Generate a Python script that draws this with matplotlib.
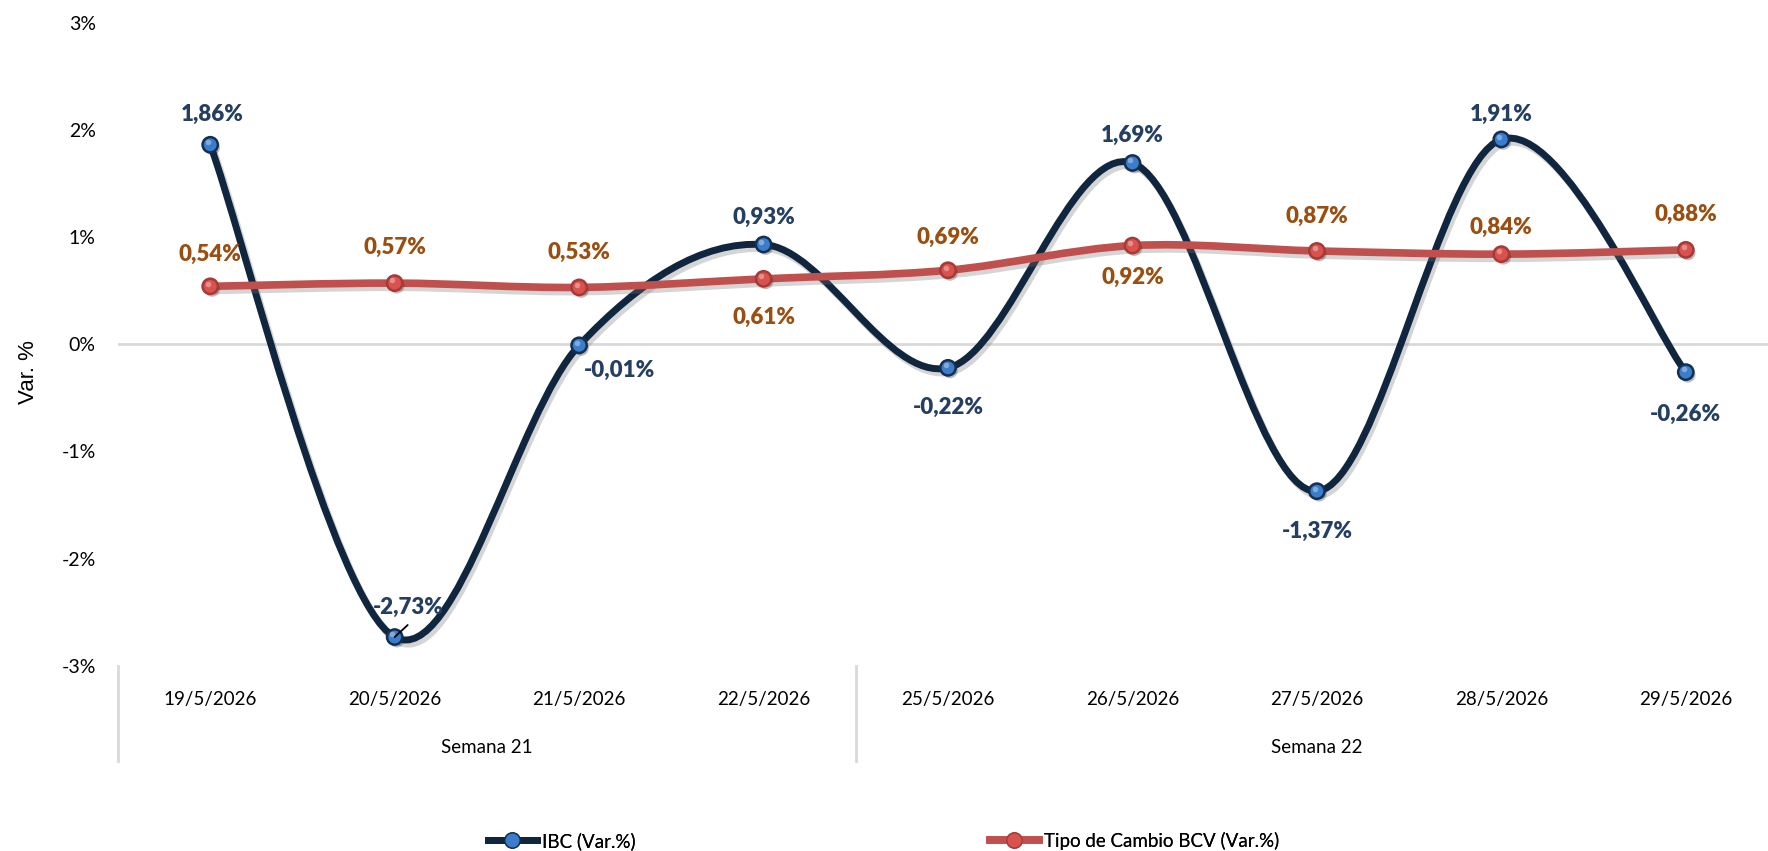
import numpy as np
import matplotlib.pyplot as plt
import matplotlib.patheffects as pe
from matplotlib.path import Path
from matplotlib.patches import PathPatch
from matplotlib.lines import Line2D
from matplotlib.transforms import blended_transform_factory

fechas = ['19/5/2026', '20/5/2026', '21/5/2026', '22/5/2026', '25/5/2026',
          '26/5/2026', '27/5/2026', '28/5/2026', '29/5/2026']
semanas = ['Semana 21', 'Semana 22']
dias_semana = [4, 5]
ibc = [1.86, -2.73, -0.01, 0.93, -0.22, 1.69, -1.37, 1.91, -0.26]
tipo_cambio = [0.54, 0.57, 0.53, 0.61, 0.69, 0.92, 0.87, 0.84, 0.88]

# label offsets in pixels (dx, dy), dy positive = up
ibc_off = [(2, 30), (14, 30), (40, -25), (0, 27), (0, -40), (0, 28), (0, -40), (0, 25), (0, -42)]
tc_off = [(0, 32), (0, 36), (0, 35), (0, -39), (0, 33), (0, -32), (0, 35), (0, 27), (0, 35)]

PX = 72 / 100  # pixels -> points at dpi 100
FONT = 'Lato'


def smooth_path(xs, ys):
    # Excel-like smoothed line: cubic bezier segments through every point
    p = np.column_stack([xs, ys]).astype(float)
    n = len(p)
    verts, codes = [p[0]], [Path.MOVETO]
    for i in range(n - 1):
        p0, p1, p2, p3 = p[max(i - 1, 0)], p[i], p[i + 1], p[min(i + 2, n - 1)]
        verts += [p1 + (p2 - p0) / 6, p2 - (p3 - p1) / 6, p2]
        codes += [Path.CURVE4] * 3
    return Path(verts, codes)


fig = plt.figure(figsize=(17.68, 8.51), dpi=100)
ax = fig.add_axes([118 / 1768, 1 - 666 / 851, 1660 / 1768, 643.5 / 851])
x = np.arange(len(fechas))

ax.set_xlim(-0.5, len(fechas) - 0.5)
ax.set_ylim(-3, 3)
ax.set_yticks(range(-3, 4))
ax.set_yticklabels([f'{v}%' for v in range(-3, 4)], fontfamily=FONT, fontsize=14)
ax.tick_params(axis='y', length=0, pad=16)
ax.set_xticks([])
for s in ax.spines.values():
    s.set_visible(False)
ax.axhline(0, color='#D9D9D9', lw=2, zorder=1)

shadow = [pe.SimpleLineShadow(offset=(2, -3), shadow_color='#777777', alpha=0.3), pe.Normal()]

series = [
    (ibc, '#10263F', 5.0, '#3B7DCB', '#15304F', '#243F62', ibc_off),
    (tipo_cambio, '#C0504D', 5.5, '#D9524E', '#A63A37', '#9A4E10', tc_off),
]
for vals, lc, lw, mfc, mec, tcol, offs in series:
    patch = PathPatch(smooth_path(x, vals), fill=False, edgecolor=lc, lw=lw,
                      capstyle='round', joinstyle='round', path_effects=shadow, zorder=3)
    ax.add_patch(patch)
    ax.plot(x, vals, ls='none', marker='o', ms=11, mfc=mfc, mec=mec, mew=1.8, zorder=5,
            path_effects=[pe.SimplePatchShadow(offset=(1.5, -2), alpha=0.3), pe.Normal()])
    ax.plot(x - 0.012, np.array(vals) + 0.025, ls='none', marker='o', ms=4,
            mfc='white', mec='none', alpha=0.35, zorder=6)
    for xi, v, (dx, dy) in zip(x, vals, offs):
        ax.annotate(f'{v:.2f}%'.replace('.', ','), (xi, v), xytext=(dx * PX, dy * PX),
                    textcoords='offset points', ha='center', va='center',
                    fontfamily=FONT, fontweight='heavy', fontsize=16, color=tcol, zorder=7)

# leader line for -2,73%
ax.annotate('', xy=(1, ibc[1]), xytext=(13 * PX, 12 * PX), textcoords='offset points',
            arrowprops=dict(arrowstyle='-', color='black', lw=1.3, shrinkA=0, shrinkB=0),
            zorder=8)

# two-level category axis
tr = blended_transform_factory(ax.transData, ax.transAxes)
for xi, f in zip(x, fechas):
    ax.text(xi, -0.0513, f, transform=tr, ha='center', va='center',
            fontfamily=FONT, fontsize=13.5)
start = 0
bounds = [-0.5]
for nombre, n in zip(semanas, dias_semana):
    ax.text(start + (n - 1) / 2, -0.126, nombre, transform=tr, ha='center', va='center',
            fontfamily=FONT, fontsize=13.5)
    start += n
    bounds.append(start - 0.5)
for b in bounds:
    ax.plot([b, b], [0, -0.148], transform=tr, color='#D9D9D9', lw=2, clip_on=False)

fig.text(28 / 1768, 1 - 372 / 851, 'Var. %', rotation=90, ha='center', va='center',
         fontfamily='Liberation Sans', fontsize=16)

# legend
h_ibc = Line2D([], [], color='#10263F', lw=5.0, marker='o', ms=11, mfc='#3B7DCB', mec='#15304F')
h_tc = Line2D([], [], color='#C0504D', lw=5.5, marker='o', ms=11, mfc='#D9524E', mec='#A63A37')
for h, lab, x0 in [(h_ibc, 'IBC (Var.%)', 488), (h_tc, 'Tipo de Cambio BCV (Var.%)', 990)]:
    leg = fig.legend([h], [lab], loc='center left', bbox_to_anchor=(x0 / 1768, 1 - 841 / 851),
                     frameon=False, borderpad=0, borderaxespad=0, handlelength=2.6,
                     handletextpad=0.3, prop={'family': FONT, 'size': 13.5})
    fig.add_artist(leg)

fig.savefig('out.png', dpi=100)
